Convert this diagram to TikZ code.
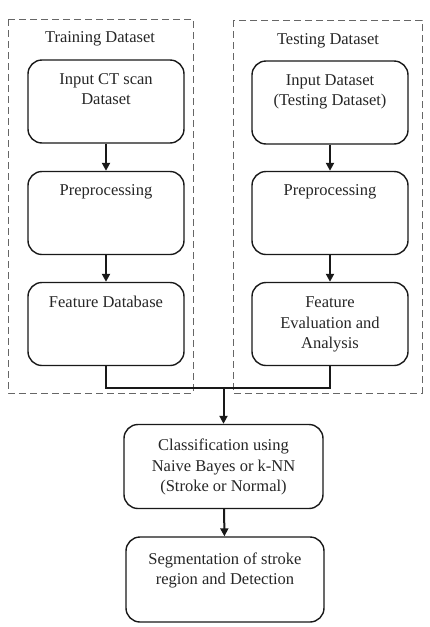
\documentclass[tikz,border=0pt]{standalone}
\usepackage{fontspec}
\setmainfont{Liberation Serif}
\usetikzlibrary{arrows.meta,positioning}
\begin{document}
\begin{tikzpicture}[x=1pt,y=-1pt,
  box/.style={draw=black!90, line width=1.4pt, rounded corners=14pt, minimum width=156pt, minimum height=83pt, inner sep=0pt},
  widebox/.style={box, minimum width=199pt, minimum height=84pt},
  txt/.style={align=center, font=\fontsize{16.5}{20.5}\selectfont, text=black!85, inner sep=0pt},
  arr/.style={draw=black!90, line width=2pt, -{Triangle[length=8pt,width=8pt]}},
  link/.style={draw=black!90, line width=2.4pt},
  group/.style={draw=black!60, line width=0.9pt, dash pattern=on 7pt off 4pt}]
\useasboundingbox (0,0) rectangle (429,627);
% groups
\draw[group] (8,19) rectangle (193,393);
\draw[group] (233,20) rectangle (422,393);
\node[txt] (t1) at (100,39) {Training Dataset};
\node[txt] (t2) at (328,41) {Testing Dataset};
% left column
\node[box] (l1) at (106,101.5) {};
\node[box] (l2) at (106,213) {};
\node[box] (l3) at (106,324) {};
% right column
\node[box] (r1) at (330,102.5) {};
\node[box] (r2) at (330,213) {};
\node[box] (r3) at (330,324) {};
% bottom
\node[widebox] (c) at (223.5,466.5) {};
\node[widebox, minimum width=198pt, minimum height=85pt] (s) at (225,579.5) {};
% texts
\node[txt, anchor=north, below=14pt of l1.north] (l1t) {Input CT scan\\Dataset};
\node[txt, anchor=north, below=14pt of l2.north] (l2t) {Preprocessing};
\node[txt, anchor=north, below=14pt of l3.north] (l3t) {Feature Database};
\node[txt, anchor=north, below=14pt of r1.north] (r1t) {Input Dataset\\(Testing Dataset)};
\node[txt, anchor=north, below=14pt of r2.north] (r2t) {Preprocessing};
\node[txt, anchor=north, below=15pt of r3.north] (r3t) {Feature\\Evaluation and\\Analysis};
\node[txt, anchor=north, below=15pt of c.north] (ct) {Classification using\\Naive Bayes or k-NN\\(Stroke or Normal)};
\node[txt, anchor=north, below=16pt of s.north] (st) {Segmentation of stroke\\region and Detection};
% connectors
\draw[arr] (l1) -- (l2);
\draw[arr] (l2) -- (l3);
\draw[arr] (r1) -- (r2);
\draw[arr] (r2) -- (r3);
\coordinate (jl) at (l3.south |- 0,388);
\coordinate (jr) at (r3.south |- 0,388);
\coordinate (j) at (c.north |- 0,388);
\draw[link] (l3.south) -- (jl) -- (jr) -- (r3.south);
\draw[arr] (j) -- (c);
\draw[arr] (c) -- (s);
\end{tikzpicture}
\end{document}
